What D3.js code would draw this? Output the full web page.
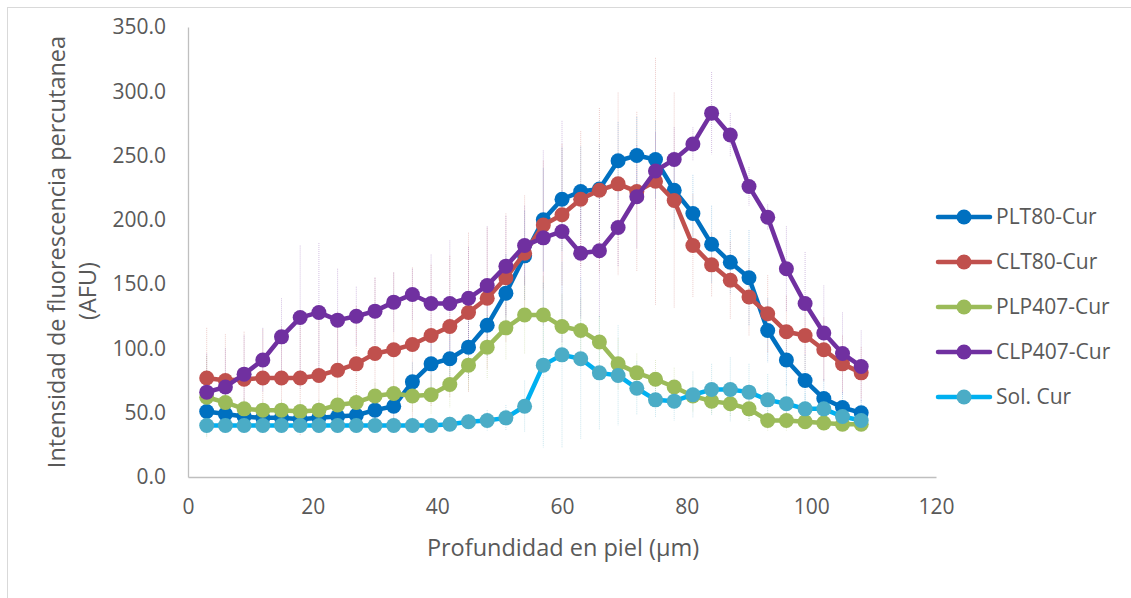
<!DOCTYPE html>
<html>
<head>
<meta charset="utf-8">
<script src="https://cdn.jsdelivr.net/npm/d3@7"></script>
<style>
  html, body { margin: 0; padding: 0; background: #fff; }
  svg { display: block; }
  text { font-family: "Open Sans", "Noto Sans", sans-serif; fill: #595959; }
</style>
</head>
<body>
<svg id="chart" width="1131" height="598"></svg>
<script>
// ---------- data ----------
const depth = [3,6,9,12,15,18,21,24,27,30,33,36,39,42,45,48,51,54,57,60,63,66,69,72,75,78,81,84,87,90,93,96,99,102,105,108];

const seriesNames = ["PLT80-Cur", "CLT80-Cur", "PLP407-Cur", "CLP407-Cur", "Sol. Cur"];

const plt80 = [51,49,47,46,46,45,46,47,48,52,55,74,88,92,101,118,143,172,200,216,222,224,246,250,247,223,205,181,167,155,114,91,75,61,54,50];
const clt80 = [77,75,76,77,77,77,79,83,88,96,99,103,110,117,128,139,155,174,196,204,216,223,228,222,230,215,180,165,153,140,127,113,110,99,88,81];
const plp407 = [62,58,53,52,52,51,52,56,58,63,65,63,64,72,87,101,116,126,126,117,114,105,88,81,76,70,63,59,57,53,44,44,43,42,41,41];
const clp407 = [66,70,80,91,109,124,128,122,125,129,136,142,135,135,139,149,164,180,186,191,174,176,194,218,238,247,259,283,266,226,202,162,135,112,96,86];
const solCur = [40,40,40,40,40,40,40,40,40,40,40,40,40,41,43,44,46,55,87,95,92,81,79,69,60,59,64,68,68,66,60,57,53,53,47,44];

// estimated standard deviations (error bars)
const plt80Err = [10,8,8,8,8,8,8,8,8,10,10,15,20,20,25,25,30,35,40,40,35,35,30,30,30,30,30,30,25,37,25,20,20,15,12,10];
const clt80Err = [39,36,37,38,40,45,45,45,45,59,60,60,55,55,62,55,50,45,50,55,53,64,71,62,96,84,40,25,30,30,30,28,27,25,22,20];
const plp407Err = [32,8,8,8,8,8,8,8,8,10,10,12,15,18,20,25,25,30,30,25,25,20,20,15,15,15,12,10,10,10,8,8,6,6,5,5];
const clp407Err = [30,30,30,25,30,56,54,40,23,26,23,20,38,49,40,46,39,31,68,86,50,52,30,40,30,25,13,32,17,15,10,33,40,37,32,28];
const solCurErr = [8,6,6,6,6,6,6,6,6,6,6,6,6,6,6,8,10,20,64,72,63,44,39,21,14,15,18,20,25,22,20,15,12,10,10,8];

const xTicks = [0,20,40,60,80,100,120];
const yTicks = [0,50,100,150,200,250,300,350];

const lineColors = ["#0070C0", "#C0504D", "#9BBB59", "#7030A0", "#00B0F0"];
const markerColors = ["#0070C0", "#C0504D", "#9BBB59", "#7030A0", "#4BACC6"];

const xTitle = "Profundidad en piel (µm)";
const yTitle1 = "Intensidad de fluorescencia  percutanea";
const yTitle2 = "(AFU)";

// ---------- build ----------
const seriesValues = [plt80, clt80, plp407, clp407, solCur];
const seriesErrors = [plt80Err, clt80Err, plp407Err, clp407Err, solCurErr];
const series = seriesNames.map((name, i) => ({
  name,
  line: lineColors[i],
  marker: markerColors[i],
  points: depth.map((d, j) => ({ x: d, y: seriesValues[i][j], e: seriesErrors[i][j] }))
}));

const svg = d3.select("#chart");

// outer frame (only left/top edges visible in the reference)
svg.append("rect")
  .attr("x", 7.5).attr("y", 7.5)
  .attr("width", 1160).attr("height", 620)
  .attr("fill", "none").attr("stroke", "#D9D9D9").attr("stroke-width", 1);

const x = d3.scaleLinear().domain([0, 120]).range([188, 936]);
const y = d3.scaleLinear().domain([0, 350]).range([477, 27]);

// axes
const yAxis = d3.axisLeft(y).tickValues(yTicks).tickSize(0).tickPadding(22)
  .tickFormat(d3.format(".1f"));
const xAxis = d3.axisBottom(x).tickValues(xTicks).tickSize(0).tickPadding(22)
  .tickFormat(d3.format("d"));

const gy = svg.append("g").attr("transform", `translate(${x(0)},0)`).call(yAxis);
gy.select(".domain").attr("stroke", "#BFBFBF").attr("stroke-width", 1.3);
gy.selectAll("text").style("font-size", "21px").attr("fill", "#595959");

const gx = svg.append("g").attr("transform", `translate(0,${y(0)})`).call(xAxis);
gx.select(".domain").attr("stroke", "#BFBFBF").attr("stroke-width", 1.3);
gx.selectAll("text").style("font-size", "21px").attr("fill", "#595959");

// error bars
const errG = svg.append("g");
series.forEach(s => {
  errG.append("g").selectAll("line")
    .data(s.points)
    .join("line")
    .attr("x1", d => x(d.x)).attr("x2", d => x(d.x))
    .attr("y1", d => y(d.y + d.e)).attr("y2", d => y(Math.max(0, d.y - d.e)))
    .attr("stroke", s.marker)
    .attr("stroke-opacity", 0.3)
    .attr("stroke-width", 1)
    .attr("stroke-dasharray", "1,1");
});

// lines + markers
const lineGen = d3.line().x(d => x(d.x)).y(d => y(d.y));
series.forEach(s => {
  const g = svg.append("g");
  g.append("path")
    .datum(s.points)
    .attr("d", lineGen)
    .attr("fill", "none")
    .attr("stroke", s.line)
    .attr("stroke-width", 4.5)
    .attr("stroke-linejoin", "round")
    .attr("stroke-linecap", "round");
  g.selectAll("circle")
    .data(s.points)
    .join("circle")
    .attr("cx", d => x(d.x)).attr("cy", d => y(d.y))
    .attr("r", 7.5)
    .attr("fill", s.marker);
});

// axis titles
svg.append("text")
  .attr("x", (x(0) + x(120)) / 2 + 1).attr("y", 556)
  .attr("text-anchor", "middle")
  .style("font-size", "23.5px")
  .text(xTitle);

svg.append("text")
  .attr("transform", "translate(65,252) rotate(-90)")
  .attr("text-anchor", "middle")
  .style("font-size", "23.5px")
  .text(yTitle1);
svg.append("text")
  .attr("transform", "translate(96,291) rotate(-90)")
  .attr("text-anchor", "middle")
  .style("font-size", "23.5px")
  .text(yTitle2);

// legend
const legend = svg.append("g");
series.forEach((s, i) => {
  const cy = 217 + i * 45;
  const g = legend.append("g");
  g.append("line")
    .attr("x1", 938).attr("x2", 990).attr("y1", cy).attr("y2", cy)
    .attr("stroke", s.line).attr("stroke-width", 4.5).attr("stroke-linecap", "round");
  g.append("circle").attr("cx", 964).attr("cy", cy).attr("r", 7.5).attr("fill", s.marker);
  g.append("text")
    .attr("x", 996).attr("y", cy).attr("dy", "0.35em")
    .style("font-size", "21px")
    .text(s.name);
});
</script>
</body>
</html>
